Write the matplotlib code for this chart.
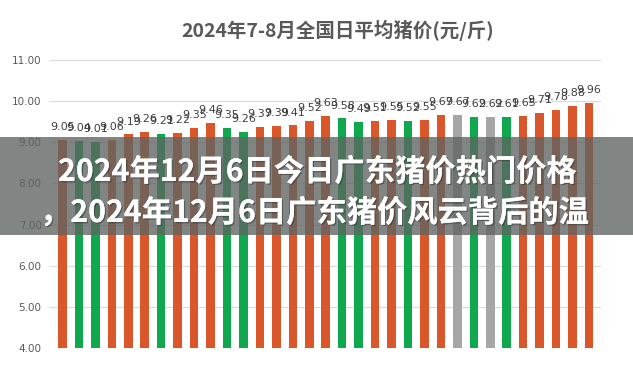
import matplotlib
matplotlib.use("Agg")
import matplotlib.pyplot as plt
from matplotlib.patches import Rectangle
import matplotlib.patheffects as pe

plt.rcParams['font.family'] = ['Noto Sans CJK SC', 'DejaVu Sans']

title = "2024年7-8月全国日平均猪价(元/斤)"
banner_line1 = "2024年12月6日今日广东猪价热门价格"
banner_line2 = "，2024年12月6日广东猪价风云背后的温"

values = [9.05, 9.04, 9.01, 9.06, 9.19, 9.26, 9.21, 9.22, 9.35, 9.46, 9.35,
          9.26, 9.37, 9.39, 9.41, 9.52, 9.63, 9.58, 9.49, 9.51, 9.55, 9.52,
          9.55, 9.67, 9.67, 9.62, 9.62, 9.61, 9.65, 9.71, 9.78, 9.88, 9.96]
# trend per day: up / down / flat
trend = ['up', 'down', 'down', 'up', 'up', 'up', 'down', 'up', 'up', 'up', 'down',
         'down', 'up', 'up', 'up', 'up', 'up', 'down', 'down', 'up', 'up', 'down',
         'up', 'up', 'flat', 'down', 'flat', 'down', 'up', 'up', 'up', 'up', 'up']
yticks = [4, 5, 6, 7, 8, 9, 10, 11]
ytick_labels = ["4.00", "5.00", "6.00", "7.00", "8.00", "9.00", "10.00", "11.00"]

color_map = {'up': '#D9572B', 'down': '#0FA84E', 'flat': '#A6A6A6'}
colors = [color_map[t] for t in trend]

fig = plt.figure(figsize=(6.33, 3.73), dpi=100)
ax = fig.add_axes([50/633, 25/373, 551/633, 288/373])

x = list(range(len(values)))
ax.bar(x, values, width=0.52, bottom=0, color=colors, zorder=2)
ax.set_ylim(4, 11)
ax.set_xlim(-0.76, len(values) - 0.27)
ax.set_yticks(yticks)
ax.set_yticklabels(ytick_labels, fontsize=7.5, color='#595959', family='DejaVu Sans')
ax.tick_params(axis='y', length=0, pad=6)
ax.set_xticks([])
for s in ax.spines.values():
    s.set_visible(False)
ax.grid(axis='y', color='#D9D9D9', linewidth=0.8, zorder=0)

for xi, v in zip(x, values):
    ax.text(xi, v + 0.24, f"{v:.2f}", ha='center', va='baseline', fontsize=8,
            color='#404040', family='DejaVu Sans', zorder=3)

fig.text(338/633, 1 - 30/373, title, ha='center', va='center', fontsize=14,
         color='#595959', fontweight='bold')

# overlay banner
fig.patches.append(Rectangle((0, 1 - 235/373), 1, 98/373, transform=fig.transFigure,
                             facecolor='#5E6461', alpha=0.78, zorder=5))
shadow = [pe.withSimplePatchShadow(offset=(1, -1), shadow_rgbFace='#333333', alpha=0.5), pe.Normal()]
fig.text(58/633, 1 - 172/373, banner_line1, ha='left', va='center', fontsize=21.8,
         color='white', fontweight='bold', zorder=6, path_effects=shadow)
fig.text(40/633, 1 - 213/373, banner_line2, ha='left', va='center', fontsize=21.8,
         color='white', fontweight='bold', zorder=6, path_effects=shadow)

fig.savefig('out.png', dpi=100)
